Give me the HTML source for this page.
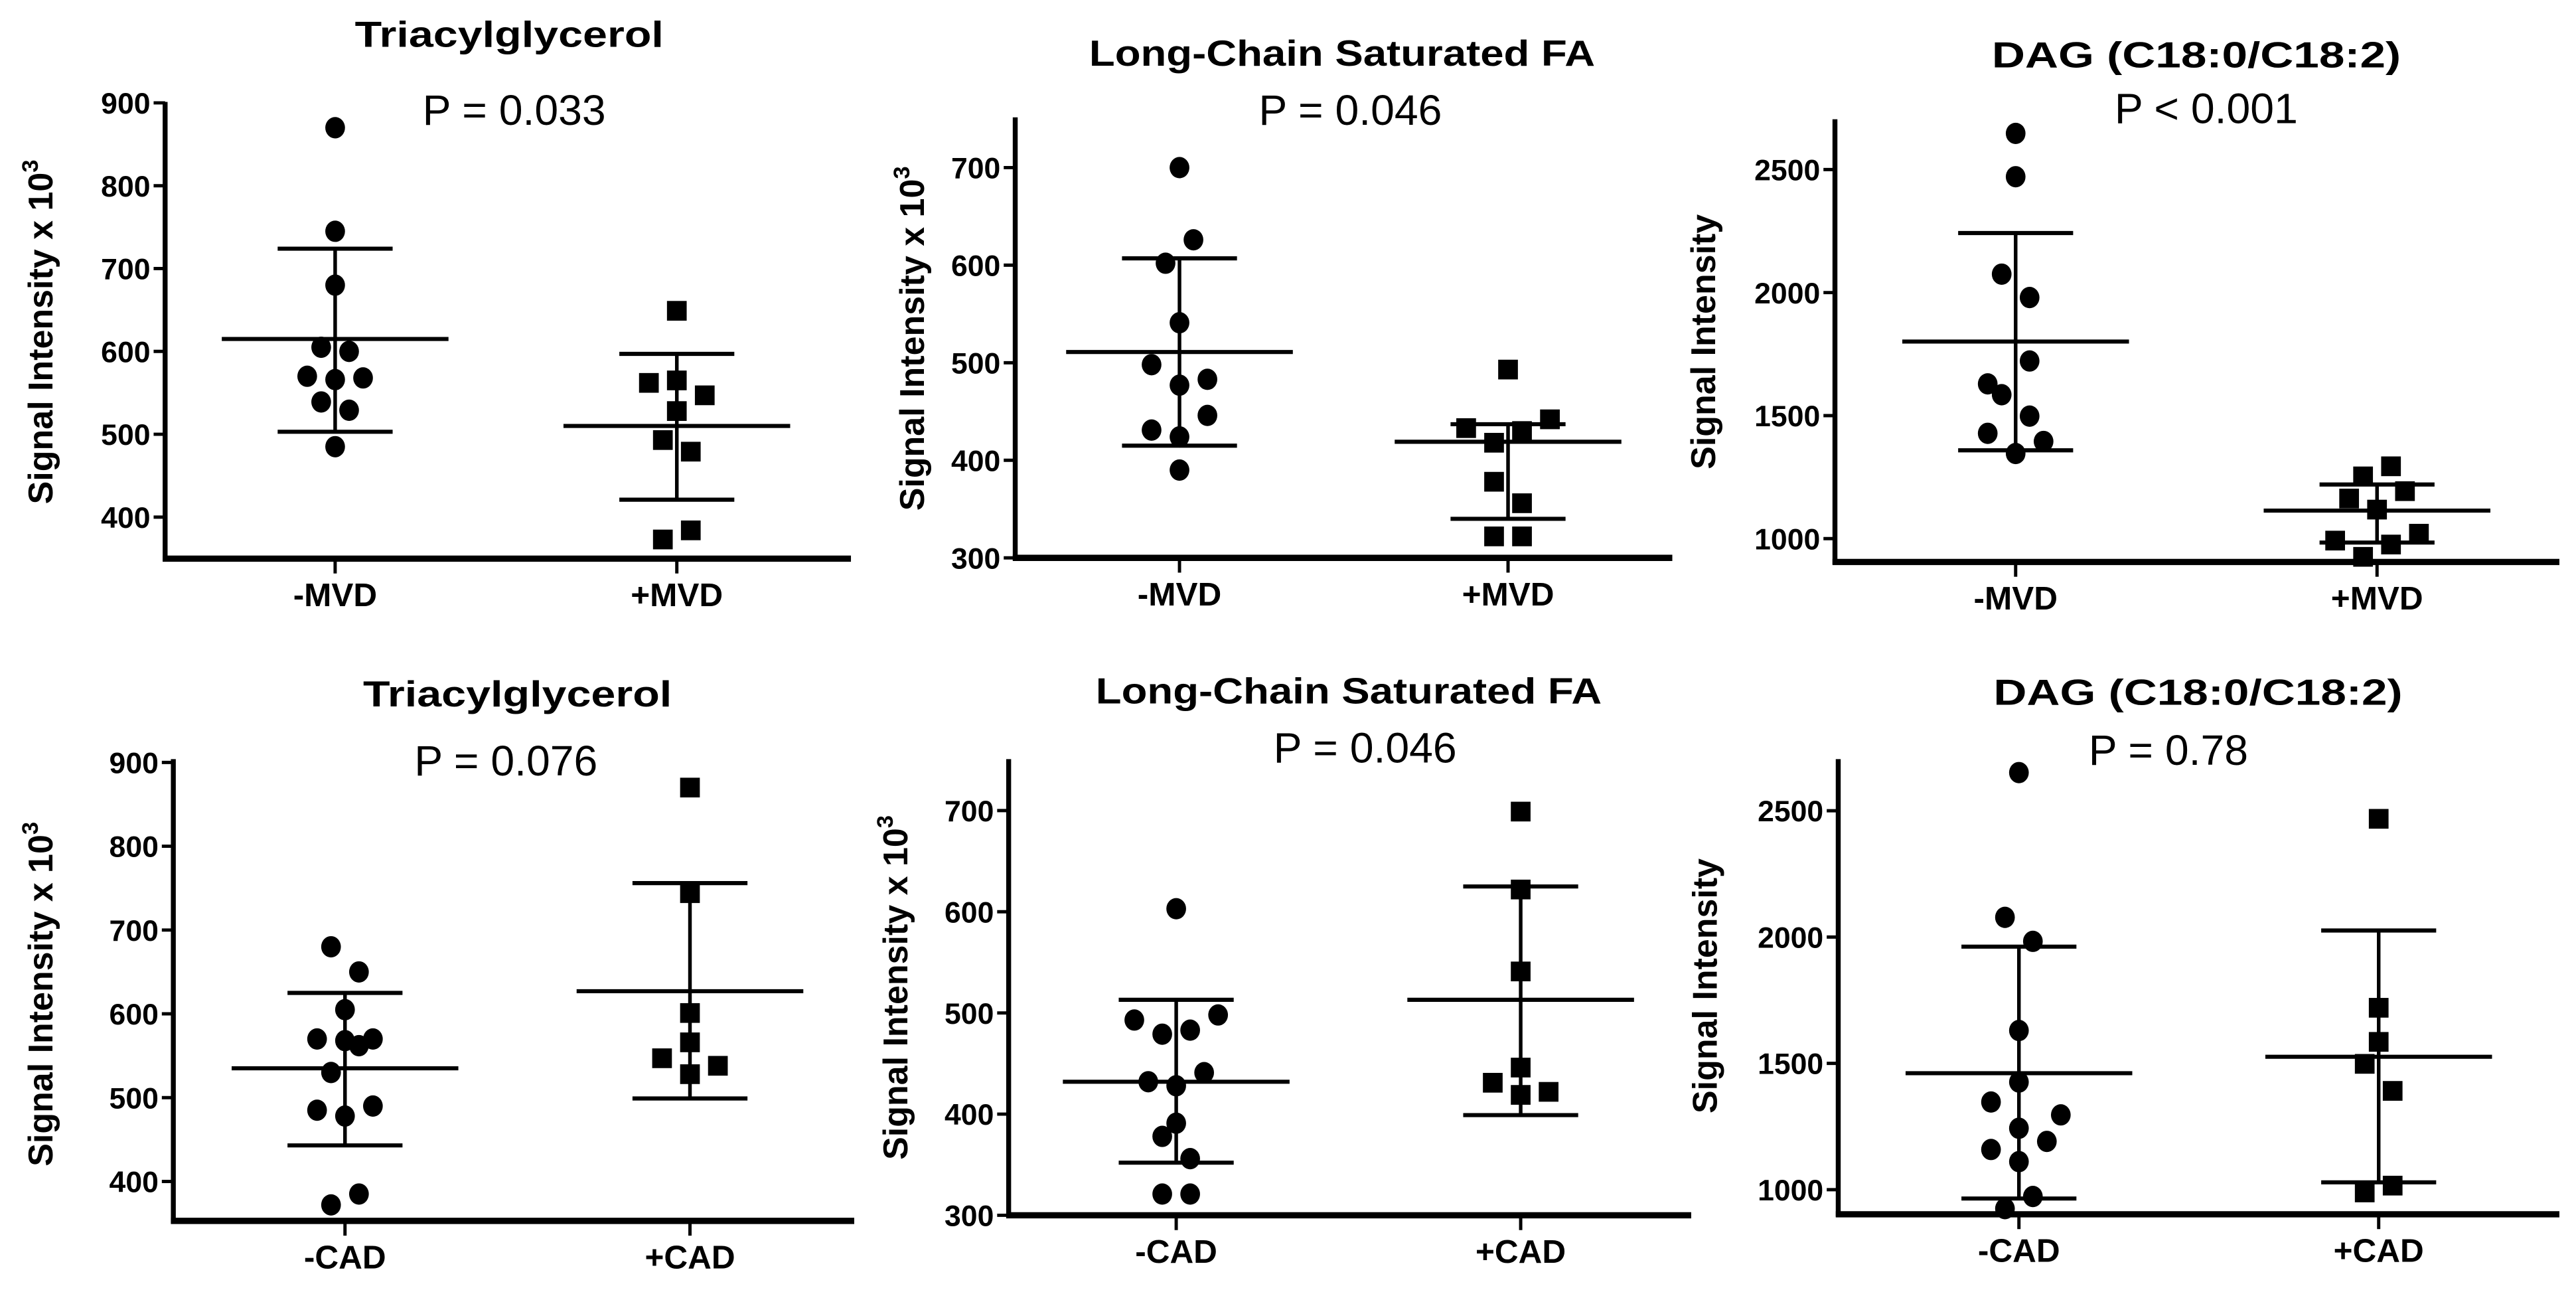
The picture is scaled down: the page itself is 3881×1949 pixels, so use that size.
<!DOCTYPE html>
<html><head><meta charset="utf-8"><style>
html,body{margin:0;padding:0;background:#fff;}
svg{display:block;}
text{font-family:"Liberation Sans",sans-serif;fill:#000;}
</style></head><body>
<svg id="fig" width="3881" height="1949" viewBox="0 0 1568.1 787.5" xmlns="http://www.w3.org/2000/svg"></svg>
<script>
// ---- data ----
const panelTitles = ["Triacylglycerol","Long-Chain Saturated FA","DAG (C18:0/C18:2)","Triacylglycerol","Long-Chain Saturated FA","DAG (C18:0/C18:2)"];
const pLabels = ["P = 0.033","P = 0.046","P < 0.001","P = 0.076","P = 0.046","P = 0.78"];
const yTitles = ["Signal Intensity x 10","Signal Intensity x 10","Signal Intensity","Signal Intensity x 10","Signal Intensity x 10","Signal Intensity"];
const catsTop = ["-MVD","+MVD"];
const catsBottom = ["-CAD","+CAD"];
const ticks0 = [400,500,600,700,800,900];
const ticks1 = [300,400,500,600,700];
const ticks2 = [1000,1500,2000,2500];
const g1p0 = [870,745,680,605,600,570,568,566,539,529,485];
const g1j0 = [0,0,0,-1,1,-2,2,0,-1,1,0];
const g2p0 = [649,562,565,547,528,493,479,384,373];
const g2j0 = [0,-2,0,2,0,-1,1,1,-1];
const g1p1 = [700,626,602,541,498,483,477,446,431,424,390];
const g1j1 = [0,1,-1,0,-2,2,0,2,-2,0,0];
const g2p1 = [493,442,433,430,418,378,356,322,322];
const g2j1 = [0,3,-3,1,-1,-1,1,-1,1];
const g1p2 = [2647,2471,2075,1980,1722,1629,1585,1498,1428,1395,1346];
const g1j2 = [0,0,-1,1,1,-2,-1,1,-2,2,0];
const g2p2 = [1294,1253,1193,1163,1118,1020,992,976,926];
const g2j2 = [1,-1,2,-2,0,3,-3,1,-1];
const g1p3 = [680,650,605,570,570,562,568,530,490,485,478,385,372];
const g1j3 = [-1,1,0,-2,2,1,0,-1,2,-2,0,1,-1];
const g2p3 = [870,744,601,566,547,538,528];
const g2j3 = [0,0,0,0,-2,2,0];
const g1p4 = [603,493,498,479,483,441,432,428,391,378,356,321,321];
const g1j4 = [0,-3,3,-1,1,2,-2,0,0,-1,1,-1,1];
const g2p4 = [699,622,541,446,431,419,422];
const g2j4 = [0,0,0,0,-2,0,2];
const g1p5 = [2651,2078,1983,1630,1426,1347,1296,1243,1191,1159,1111,973,925];
const g1j5 = [0,-1,1,0,0,-2,3,0,2,-2,0,1,-1];
const g2p5 = [2468,1720,1585,1498,1391,1016,989];
const g2j5 = [0,0,0,-1,1,1,-1];
const means = [[615,510],[511,419],[1801,1114],[535,627],[432,513],[1461,1526]];
const uppers = [[724,597],[607,437],[2242,1220],[625,756],[513,625],[1962,2026]];
const lowers = [[503,421],[415,340],[1359,984],[443,499],[352,399],[965,1029]];

// ---- layout ----
const layout = [
 {ax:100.5, xr:518, base:340, top:62, vA:400, yA:314.7, vB:900, yB:62.6, c:[204,412], tx:310, ty:28.5, tw:188, px:313, py:76, yt:25, yc:202},
 {ax:618, xr:1018, base:339.5, top:71.4, vA:300, yA:339.5, vB:700, yB:102, c:[718,918], tx:817, ty:40, tw:308, px:822, py:76, yt:555.5, yc:206},
 {ax:1117, xr:1558, base:342, top:72.6, vA:1000, yA:327.8, vB:2500, yB:103.2, c:[1227,1447], tx:1337, ty:41, tw:249, px:1343, py:75, yt:1037, yc:208},
 {ax:105.5, xr:520, base:743, top:462, vA:400, yA:719, vB:900, yB:464, c:[210,420], tx:315, ty:430, tw:188, px:308, py:472, yt:25, yc:605},
 {ax:614, xr:1029.5, base:739.6, top:462, vA:300, yA:739.6, vB:700, yB:493.3, c:[716,925.7], tx:821, ty:428, tw:308, px:831, py:464, yt:545.4, yc:601},
 {ax:1119, xr:1558, base:739, top:462, vA:1000, yA:724, vB:2500, yB:493.4, c:[1229,1448], tx:1338, ty:429, tw:249, px:1320, py:465.5, yt:1038, yc:600}
];
const tickSets=[ticks0,ticks1,ticks2,ticks0,ticks1,ticks2];
const pts=[[g1p0,g2p0],[g1p1,g2p1],[g1p2,g2p2],[g1p3,g2p3],[g1p4,g2p4],[g1p5,g2p5]];
const jit=[[g1j0,g2j0],[g1j1,g2j1],[g1j2,g2j2],[g1j3,g2j3],[g1j4,g2j4],[g1j5,g2j5]];
const NS="http://www.w3.org/2000/svg";
const svg=document.getElementById('fig');
function mk(tag,attrs,parent,txt){const e=document.createElementNS(NS,tag);for(const k in attrs)e.setAttribute(k,attrs[k]);if(txt!==undefined)e.textContent=txt;parent.appendChild(e);return e;}

layout.forEach((L,i)=>{
  const g=mk('g',{},svg);
  
  
  const y=v=>L.yA+(v-L.vA)*(L.yB-L.yA)/(L.vB-L.vA);
  const cats=i<3?catsTop:catsBottom;
  const t=mk('text',{x:L.tx,y:L.ty,'font-size':22,'font-weight':'bold','text-anchor':'middle',textLength:L.tw,lengthAdjust:'spacingAndGlyphs'},g,panelTitles[i]);
  
  
  const p=mk('text',{x:L.px,y:L.py,'font-size':26,'text-anchor':'middle'},g,pLabels[i]);
  
  
  const yt=mk('text',{transform:`translate(${L.yt+7},${L.yc}) rotate(-90)`,'font-size':21,'font-weight':'bold','text-anchor':'middle'},g,yTitles[i]);
  if(yTitles[i].endsWith('10')) mk('tspan',{dy:-9,'font-size':14},yt,'3');
  
  
  const ya=mk('line',{x1:L.ax,y1:L.top,x2:L.ax,y2:L.base+1.5,stroke:'#000','stroke-width':3},g);
  
  
  const xa=mk('line',{x1:L.ax-1.5,y1:L.base,x2:L.xr,y2:L.base,stroke:'#000','stroke-width':3.8},g);
  
  
  tickSets[i].forEach(v=>{
    const yy=y(v);
    mk('line',{x1:L.ax-7,y1:yy,x2:L.ax,y2:yy,stroke:'#000','stroke-width':2},g);
    const tl=mk('text',{x:L.ax-9,y:yy+6.5,'font-size':18,'font-weight':'bold','text-anchor':'end'},g,String(v));
    
    
  });
  cats.forEach((c,k)=>{
    const cx=L.c[k];
    mk('line',{x1:cx,y1:L.base,x2:cx,y2:L.base+9,stroke:'#000','stroke-width':2},g);
    const cl=mk('text',{x:cx,y:L.base+29,'font-size':20,'font-weight':'bold','text-anchor':'middle'},g,c);
    
    
    const m=means[i][k],u=uppers[i][k],lo=lowers[i][k];
    mk('line',{x1:cx,y1:y(u),x2:cx,y2:y(lo),stroke:'#000','stroke-width':2.2},g);
    mk('line',{x1:cx-35,y1:y(u),x2:cx+35,y2:y(u),stroke:'#000','stroke-width':2.5},g);
    mk('line',{x1:cx-35,y1:y(lo),x2:cx+35,y2:y(lo),stroke:'#000','stroke-width':2.5},g);
    const ml=mk('line',{x1:cx-69,y1:y(m),x2:cx+69,y2:y(m),stroke:'#000','stroke-width':2.5},g);
    
    
    pts[i][k].forEach((v,j)=>{
      const px=cx+jit[i][k][j]*8.5, py=y(v);
      let e;
      if(k===0) e=mk('ellipse',{cx:px,cy:py,rx:6,ry:6.5,fill:'#000'},g);
      else e=mk('rect',{x:px-6,y:py-6,width:12,height:12,fill:'#000'},g);
      
      
    });
  });
});
</script>
</body></html>
